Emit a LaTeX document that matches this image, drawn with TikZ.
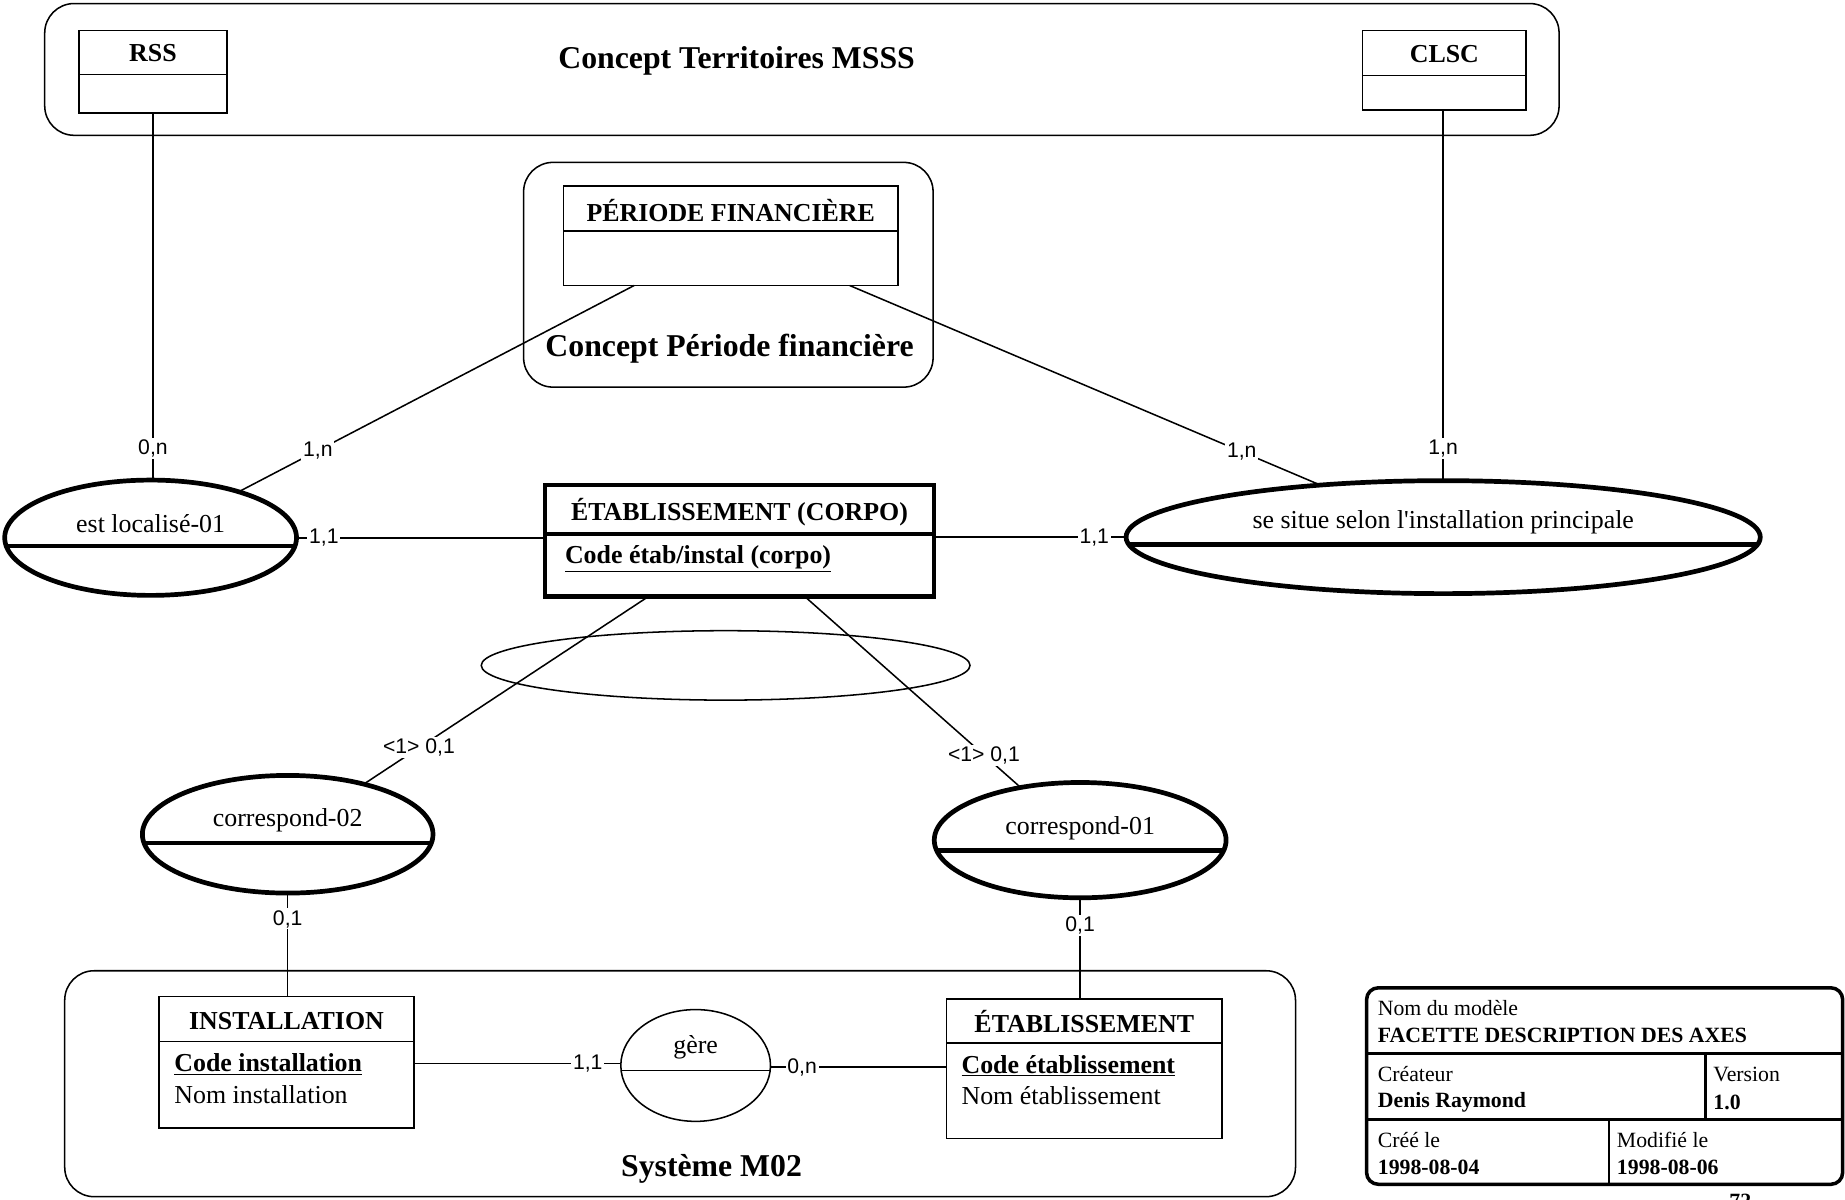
\documentclass[tikz,border=0pt]{standalone}
\usepackage{fontspec}
\setmainfont{Liberation Serif}
\setsansfont{Liberation Sans}
\usetikzlibrary{shapes.geometric,calc}
\begin{document}
\begin{tikzpicture}[x=1pt,y=-1pt,
  thinl/.style={line width=1.3pt},
  thickl/.style={line width=4pt},
  grp/.style={draw,thinl,rounded corners=25pt,inner sep=0pt,outer sep=0pt},
  ent/.style={draw,thinl,rectangle,inner sep=0pt,outer sep=0pt},
  entthick/.style={draw,line width=3.6pt,rectangle,inner sep=0pt,outer sep=0pt},
  assoc/.style={draw,thickl,ellipse,inner sep=0pt,outer sep=0pt},
  assocthin/.style={draw,thinl,ellipse,inner sep=0pt,outer sep=0pt},
  conn/.style={thinl},
  card/.style={font=\sffamily\fontsize{18}{18}\selectfont,fill=white,inner sep=1.5pt},
  bigtitle/.style={font=\bfseries\fontsize{27}{29}\selectfont,inner sep=0pt},
  etitle/.style={font=\bfseries\fontsize{22}{24}\selectfont,inner sep=0pt},
  atext/.style={font=\fontsize{22}{24}\selectfont,inner sep=0pt},
  tbtext/.style={font=\fontsize{18.5}{20}\selectfont,inner sep=0pt,anchor=west},
  tbbold/.style={font=\bfseries\fontsize{18.5}{20}\selectfont,inner sep=0pt,anchor=west}
]
\useasboundingbox (0,0) rectangle (1568,1019);

% ---------- groups ----------
\node[grp,minimum width=1287pt,minimum height=112pt] (msss) at (681.5,59) {};
\node[bigtitle] (msssT) at (626,52) {Concept Territoires MSSS};
\node[grp,minimum width=348pt,minimum height=191pt] (pgrp) at (619,233.5) {};
\node[bigtitle] (pgrpT) at (620,296.5) {Concept Période financière};
\node[grp,minimum width=1046pt,minimum height=192pt] (sgrp) at (578,921) {};
\node[bigtitle] (sgrpT) at (604.7,993.6) {Système M02};

% ---------- entities ----------
\node[ent,minimum width=126pt,minimum height=70pt] (rss) at (130,61) {};
\draw[thinl] ([yshift=-37.5pt]rss.north west) -- ([yshift=-37.5pt]rss.north east);
\node[etitle] (rssT) at (130,45) {RSS};

\node[ent,minimum width=139pt,minimum height=67.5pt] (clsc) at (1227.5,59.75) {};
\draw[thinl] ([yshift=-38pt]clsc.north west) -- ([yshift=-38pt]clsc.north east);
\node[etitle] (clscT) at (1227.5,46) {CLSC};

\node[ent,minimum width=284pt,minimum height=84.6pt] (pf) at (621,200.3) {};
\draw[thinl] ([yshift=-38.5pt]pf.north west) -- ([yshift=-38.5pt]pf.north east);
\node[etitle] (pfT) at (621,178.5) {PÉRIODE FINANCIÈRE};

\node[entthick,minimum width=331pt,minimum height=95pt] (corpo) at (628.5,459.5) {};
\draw[line width=3.6pt] ([yshift=-42pt]corpo.north west) -- ([yshift=-42pt]corpo.north east);
\node[etitle] (corpoT) at (628.5,435) {ÉTABLISSEMENT (CORPO)};
\node[etitle,anchor=west] (corpoA) at (480,475) {\underline{Code étab/instal (corpo)}};

\node[ent,minimum width=217pt,minimum height=111.6pt] (inst) at (243.5,902.8) {};
\draw[thinl] ([yshift=-38pt]inst.north west) -- ([yshift=-38pt]inst.north east);
\node[etitle] (instT) at (243.5,867.5) {INSTALLATION};
\node[etitle,anchor=west] (instA) at (148,904.5) {\underline{Code installation}};
\node[atext,anchor=west] (instB) at (148,930.5) {Nom installation};

\node[ent,minimum width=234pt,minimum height=118.6pt] (etab) at (921.5,908.3) {};
\draw[thinl] ([yshift=-37.5pt]etab.north west) -- ([yshift=-37.5pt]etab.north east);
\node[etitle] (etabT) at (921.5,868.5) {ÉTABLISSEMENT};
\node[etitle,anchor=west] (etabA) at (817,905.5) {\underline{Code établissement}};
\node[atext,anchor=west] (etabB) at (817,931.5) {Nom établissement};

% ---------- associations ----------
\node[assoc,minimum width=248pt,minimum height=98pt] (el) at (128,457) {};
\draw[thickl] ($(el.center)+(-122.7,7)$) -- ($(el.center)+(122.7,7)$);
\node[atext] (elT) at (128,445) {est localisé-01};

\node[assoc,minimum width=539pt,minimum height=96pt] (ss) at (1226.5,456.5) {};
\draw[thickl] ($(ss.center)+(-267,6.5)$) -- ($(ss.center)+(267,6.5)$);
\node[atext] (ssT) at (1226.5,444) {se situe selon l\textquotesingle installation principale};

\node[assoc,minimum width=247pt,minimum height=100pt] (c02) at (244.5,709) {};
\draw[thickl] ($(c02.center)+(-122,7.4)$) -- ($(c02.center)+(122,7.4)$);
\node[atext] (c02T) at (244.5,697.5) {correspond-02};

\node[assoc,minimum width=248pt,minimum height=98pt] (c01) at (918,714) {};
\draw[thickl] ($(c01.center)+(-122,8.6)$) -- ($(c01.center)+(122,8.6)$);
\node[atext] (c01T) at (918,703.5) {correspond-01};

\node[assocthin,minimum width=127.2pt,minimum height=95pt] (gere) at (591.2,905.5) {};
\draw[thinl] ($(gere.center)+(-63.3,4.3)$) -- ($(gere.center)+(63.3,4.3)$);
\node[atext] (gereT) at (591.2,890) {gère};

\node[assocthin,minimum width=415.4pt,minimum height=59pt] (oval) at (616.7,565.5) {};

% ---------- connectors ----------
\draw[conn] (rss.south) -- node[card,pos=0.913]{0,n} (rss.south |- el.north);
\draw[conn] ([xshift=60pt]pf.south west) -- node[card,pos=0.8]{1,n} (el);
\draw[conn] ([xshift=243pt]pf.south west) -- node[card,pos=0.833]{1,n} (ss);
\draw[conn] (clsc.south -| ss.north) -- node[card,pos=0.914]{1,n} (ss.north);
\draw[conn] (el.east) -- node[card,pos=0.11]{1,1} (el.east -| corpo.west);
\draw[conn] (corpo.east |- ss.west) -- node[card,pos=0.834]{1,1} (ss.west);
\draw[conn] ([xshift=88pt]corpo.south west) -- node[card,pos=0.806]{<1> 0,1} (c02);
\draw[conn] ([xshift=221pt]corpo.south west) -- node[card,pos=0.83]{<1> 0,1} (c01);
\draw[conn] (c02.south) -- node[card,pos=0.25]{0,1} (c02.south |- inst.north);
\draw[conn] (c01.south) -- node[card,pos=0.27]{0,1} (c01.south |- etab.north);
\draw[conn] (inst.east |- 0,904) -- node[card,pos=0.84]{1,1} (gere.west |- 0,904);
\draw[conn] (gere.east |- 0,907) -- node[card,pos=0.18]{0,n} (etab.west |- 0,907);

% ---------- title block ----------
\node[draw,line width=3pt,rounded corners=10pt,inner sep=0pt,outer sep=0pt,
      minimum width=404.6pt,minimum height=167pt] (tb) at (1363.7,923) {};
\draw[line width=2.5pt] (tb.west |- 0,895.7) -- (tb.east |- 0,895.7);
\draw[line width=2.5pt] (tb.west |- 0,951.2) -- (tb.east |- 0,951.2);
\draw[line width=2.5pt] (1449.8,895.7) -- (1449.8,951.2);
\draw[line width=2.5pt] (1367.4,951.2) -- (1367.4,1005);
\node[tbtext] (tb1) at (1170.8,857) {Nom du modèle};
\node[tbbold] (tb2) at (1170.8,880) {FACETTE DESCRIPTION DES AXES};
\node[tbtext] (tb3) at (1170.8,913) {Créateur};
\node[tbbold] (tb4) at (1170.8,936.5) {Denis Raymond};
\node[tbtext] (tb5) at (1456,913) {Version};
\node[tbbold] (tb6) at (1456,936.5) {1.0};
\node[tbtext] (tb7) at (1170.8,969) {Créé le};
\node[tbbold] (tb8) at (1170.8,992) {1998-08-04};
\node[tbtext] (tb9) at (1374,969) {Modifié le};
\node[tbbold] (tb10) at (1374,992) {1998-08-06};
\node[font=\bfseries\fontsize{18.5}{20}\selectfont,inner sep=0pt,anchor=north] (pg) at (1479,1014.5) {72};
\end{tikzpicture}
\end{document}
